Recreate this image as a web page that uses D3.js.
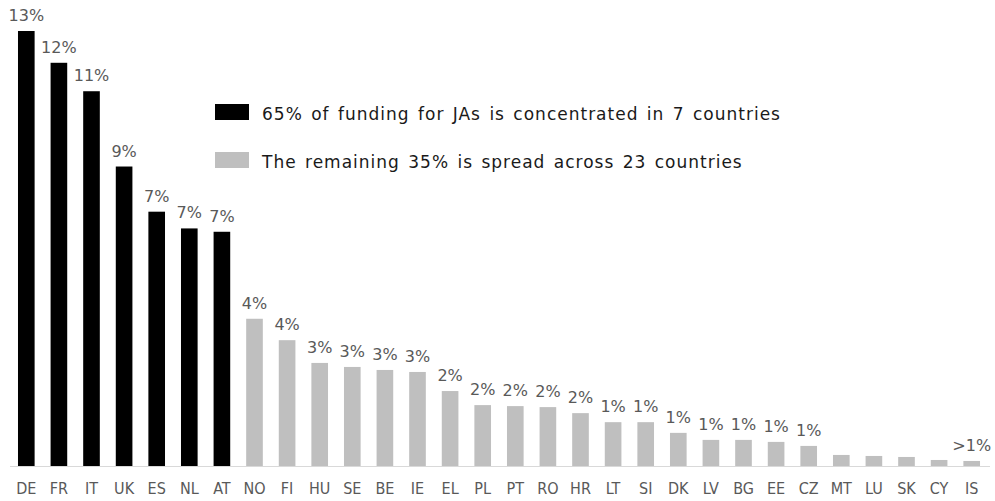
<!DOCTYPE html>
<html>
<head>
<meta charset="utf-8">
<script src="https://cdn.jsdelivr.net/npm/d3@7"></script>
<style>
  body { margin: 0; background: #fff; }
  svg text { font-family: "DejaVu Sans", Verdana, sans-serif; }
</style>
</head>
<body>
<svg id="chart" width="995" height="501"></svg>
<script>
// Countries in order of funding share
const countries = ['DE','FR','IT','UK','ES','NL','AT','NO','FI','HU','SE','BE','IE','EL','PL','PT','RO','HR','LT','SI','DK','LV','BG','EE','CZ','MT','LU','SK','CY','IS']
// Share of funding (%)
const shares = [13.0,12.05,11.2,8.95,7.6,7.1,7.0,4.4,3.76,3.08,2.96,2.87,2.81,2.24,1.82,1.79,1.76,1.58,1.31,1.31,0.99,0.78,0.78,0.72,0.6,0.33,0.3,0.27,0.18,0.15]
// Printed labels above bars
const valueLabels = ['13%','12%','11%','9%','7%','7%','7%','4%','4%','3%','3%','3%','3%','2%','2%','2%','2%','2%','1%','1%','1%','1%','1%','1%','1%','','','','','>1%']
const topCount = 7
const legendItems = [
  {text: '65% of funding for JAs is concentrated in 7 countries', color: '#000000'},
  {text: 'The remaining 35% is spread across 23 countries', color: '#bfbfbf'}
]

const svg = d3.select('#chart')
const baseY = 466

let x = d3.scaleBand()
  .domain(countries)
  .range([10, 988])
  .paddingInner(0.49)
  .paddingOuter(0.245)

let y = d3.scaleLinear()
  .domain([0, 13])
  .range([baseY, 31])

let data = countries.map(function(c, i){
  return {name: c, value: shares[i], label: valueLabels[i], top: i < topCount}
})

//Axis baseline
svg.append('line')
  .attr('x1', 10)
  .attr('x2', 990)
  .attr('y1', baseY + 0.5)
  .attr('y2', baseY + 0.5)
  .attr('stroke', '#d9d9d9')
  .attr('stroke-width', 1)

//Bars
svg.selectAll('.bar')
  .data(data)
  .enter()
  .append('rect')
  .attr('class', 'bar')
  .attr('x', d => x(d.name))
  .attr('y', d => y(d.value))
  .attr('width', x.bandwidth())
  .attr('height', d => baseY - y(d.value))
  .attr('fill', d => d.top ? '#000000' : '#bfbfbf')

//Value labels
svg.selectAll('.vlabel')
  .data(data)
  .enter()
  .append('text')
  .attr('class', 'vlabel')
  .attr('x', d => x(d.name) + x.bandwidth() / 2)
  .attr('y', d => y(d.value) - 10)
  .attr('text-anchor', 'middle')
  .attr('fill', '#595959')
  .attr('font-size', 16)
  .text(d => d.label)

//Category labels
let xAxis = d3.axisBottom(x).tickSize(0).tickPadding(17)
let gx = svg.append('g')
  .attr('transform', 'translate(0,' + baseY + ')')
  .call(xAxis)
gx.select('.domain').remove()
gx.selectAll('text')
  .attr('font-size', 16)
  .attr('fill', '#595959')
  .style('font-family', '"DejaVu Sans Condensed", "DejaVu Sans", sans-serif')

//Legend
let legend = svg.selectAll('.legend')
  .data(legendItems)
  .enter()
  .append('g')
  .attr('class', 'legend')
  .attr('transform', (d, i) => 'translate(215,' + (104 + i * 48) + ')')

legend.append('rect')
  .attr('width', 34)
  .attr('height', 16)
  .attr('fill', d => d.color)

legend.append('text')
  .attr('x', 47)
  .attr('y', 16)
  .attr('font-size', 17)
  .attr('fill', '#1a1a1a')
  .style('letter-spacing', '1px')
  .style('word-spacing', '2px')
  .text(d => d.text)
</script>
</body>
</html>
